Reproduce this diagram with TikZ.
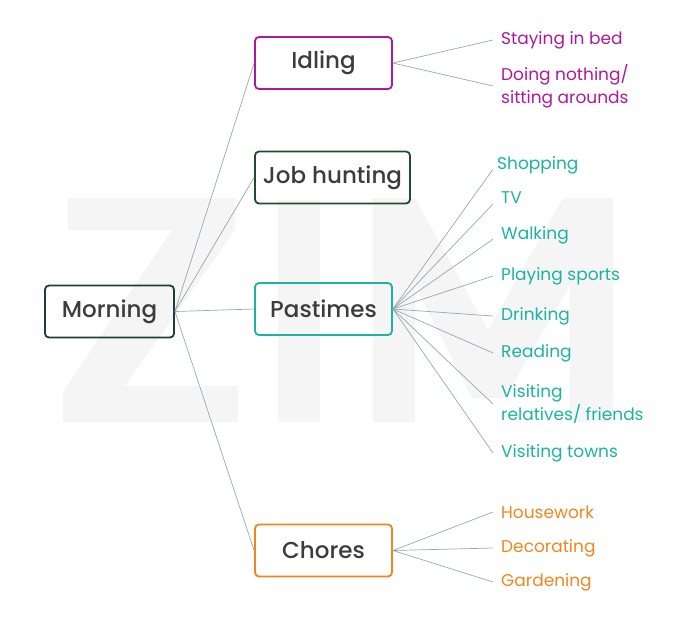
\documentclass[tikz,border=0pt]{standalone}
\usepackage{fontspec}
\setmainfont{Poppins}
\newfontfamily\topicfont{Poppins Medium}
\usepackage{xcolor}
\usetikzlibrary{positioning}

\definecolor{mornline}{HTML}{1E3C40}
\definecolor{idlecol}{HTML}{B0189C}
\definecolor{jobcol}{HTML}{1F4D2C}
\definecolor{pastcol}{HTML}{1CB3A2}
\definecolor{chorecol}{HTML}{F0861E}
\definecolor{topictext}{HTML}{3C3C3C}
\definecolor{linkcol}{HTML}{96A8B0}
\definecolor{wmark}{HTML}{F5F5F5}

\begin{document}
\begin{tikzpicture}[x=1pt,y=-1pt,
  topic/.style={draw,rounded corners=4pt,line width=1.8pt,minimum width=137pt,minimum height=52pt,
    text=topictext,font=\topicfont\fontsize{23}{26}\selectfont},
  leaf/.style={anchor=west,inner xsep=8pt,inner ysep=2pt,align=left,font=\fontsize{17}{23}\selectfont},
  link/.style={draw=linkcol,line width=0.7pt}]

    \useasboundingbox (0,0) rectangle (700,624);

    % Watermark in the background
    \fill[wmark] (68,198) -- (235,198) -- (235,230) -- (125,386) -- (238,386) -- (238,422)
                 -- (63,422) -- (63,392) -- (172,230) -- (68,230) -- cycle;
    \fill[wmark] (278,200) rectangle (320,422);
    \fill[wmark] (373,422) -- (373,198) -- (415,198) -- (488,330) -- (563,198) -- (613,198)
                 -- (613,422) -- (570,422) -- (570,285) -- (505,398) -- (472,398) -- (415,285)
                 -- (415,422) -- cycle;

    % The topics
	\node [topic,draw=mornline,minimum width=129pt] at (109.5,311.5) (M) {Morning};
	\node [topic,draw=idlecol] at (323.5,63) (I) {Idling};
	\node [topic,draw=jobcol,minimum width=155pt] at (332.5,177.5) (J) {Job hunting};
	\node [topic,draw=pastcol] at (323.5,309) (P) {Pastimes};
	\node [topic,draw=chorecol] at (323.5,550.5) (C) {Chores};

    % Idling
	\node [leaf,text=idlecol] at (493,40) (I1) {Staying in bed};
	\node [leaf,text=idlecol] at (493,86) (I2) {Doing nothing/\\sitting arounds};

    % Pastimes
	\node [leaf,text=pastcol,inner xsep=4pt] at (493,165) (P1) {Shopping};
	\node [leaf,text=pastcol] at (493,198) (P2) {TV};
	\node [leaf,text=pastcol] at (493,235) (P3) {Walking};
	\node [leaf,text=pastcol] at (493,276) (P4) {Playing sports};
	\node [leaf,text=pastcol] at (493,316) (P5) {Drinking};
	\node [leaf,text=pastcol] at (493,353) (P6) {Reading};
	\node [leaf,text=pastcol] at (493,404) (P7) {Visiting\\relatives/ friends};
	\node [leaf,text=pastcol] at (493,453) (P8) {Visiting towns};

    % Chores
	\node [leaf,text=chorecol] at (493,512) (C1) {Housework};
	\node [leaf,text=chorecol] at (493,548) (C2) {Decorating};
	\node [leaf,text=chorecol] at (493,582) (C3) {Gardening};

	% Links
	\path[link]
	(M.east) edge (I.west)
	(M.east) edge (J.west)
	(M.east) edge (P.west)
	(M.east) edge (C.west)
	(I.east) edge (I1.west)
	(I.east) edge (I2.west)
	(P.east) edge (P1.base west)
	(P.east) edge (P2.base west)
	(P.east) edge (P3.base west)
	(P.east) edge (P4.west)
	(P.east) edge (P5.west)
	(P.east) edge (P6.west)
	(P.east) edge (P7.west)
	(P.east) edge (P8.west)
	(C.east) edge (C1.west)
	(C.east) edge (C2.west)
	(C.east) edge (C3.west)
	;

\end{tikzpicture}
\end{document}
